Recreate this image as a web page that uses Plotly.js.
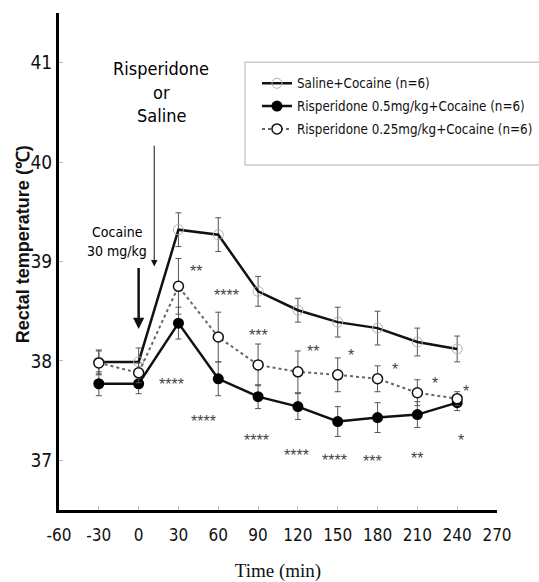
<!DOCTYPE html>
<html>
<head>
<meta charset="utf-8">
<script src="https://cdn.plot.ly/plotly-3.0.1.min.js"></script>
<style>html,body{margin:0;padding:0;background:#fff;}#chart{width:539px;height:582px;}</style>
</head>
<body>
<div id="chart"></div>
<script>
const time = [-30, 0, 30, 60, 90, 120, 150, 180, 210, 240];
const saline = [37.99, 37.99, 39.32, 39.27, 38.70, 38.51, 38.39, 38.33, 38.19, 38.12];
const salineErr = [0.12, 0.14, 0.17, 0.17, 0.15, 0.12, 0.15, 0.17, 0.14, 0.13];
const risp05 = [37.77, 37.77, 38.38, 37.82, 37.64, 37.54, 37.39, 37.43, 37.46, 37.58];
const risp05Err = [0.12, 0.10, 0.16, 0.17, 0.12, 0.13, 0.15, 0.15, 0.13, 0.08];
const risp025 = [37.98, 37.88, 38.75, 38.24, 37.96, 37.89, 37.86, 37.82, 37.68, 37.62];
const risp025Err = [0.12, 0.10, 0.28, 0.25, 0.21, 0.21, 0.17, 0.13, 0.13, 0.07];

const seriesNames = ['Saline+Cocaine (n=6)', 'Risperidone 0.5mg/kg+Cocaine (n=6)', 'Risperidone 0.25mg/kg+Cocaine (n=6)'];

const sigX = [43.5, 66, 90, 24.6, 48.8, 88.8, 119, 131, 160, 193, 223, 246.6, 243, 147.7, 176, 209.6];
const sigY = [38.94, 38.70, 38.30, 37.80, 37.43, 37.24, 37.09, 38.13, 38.09, 37.95, 37.81, 37.73, 37.24, 37.04, 37.03, 37.06];
const sigText = ['**', '****', '***', '****', '****', '****', '****', '**', '*', '*', '*', '*', '*', '****', '***', '**'];

const injLabel1 = ['Risperidone', 'or', 'Saline'];
const injLabel1Y = [40.94, 40.70, 40.47];
const injLabel2 = ['Cocaine', '30 mg/kg'];
const injLabel2Y = [39.30, 39.11];

const xTicks = [-60, -30, 0, 30, 60, 90, 120, 150, 180, 210, 240, 270];
const yTicks = [37, 38, 39, 40, 41];

const narrow = '"Liberation Sans Narrow", "DejaVu Sans Condensed", sans-serif';

function errBar(arr) {
  return {type: 'data', array: arr, visible: true, color: '#555', thickness: 1, width: 3};
}

const traces = [
  {x: time, y: saline, name: seriesNames[0], legendgroup: 'a', type: 'scatter', mode: 'lines+markers',
   line: {color: '#111', width: 2.5},
   marker: {symbol: 'circle-open', size: 10, color: '#b0b0b0', line: {width: 1}},
   error_y: errBar(salineErr)},
  {x: time, y: risp05, name: seriesNames[1], legendgroup: 'b', type: 'scatter', mode: 'lines+markers',
   line: {color: '#111', width: 2.5},
   marker: {symbol: 'circle', size: 11, color: '#000'},
   error_y: errBar(risp05Err)},
  {x: time, y: risp025, name: seriesNames[2], legendgroup: 'c', type: 'scatter', mode: 'lines+markers',
   line: {color: '#666', width: 2, dash: 'dot'},
   marker: {symbol: 'circle', size: 10, color: '#fff', line: {color: '#111', width: 1.5}},
   error_y: errBar(risp025Err)}
];

const annotations = sigX.map((x, i) => ({
  x: x, y: sigY[i], xref: 'x', yref: 'y', text: sigText[i], showarrow: false, yshift: -4,
  font: {family: '"Liberation Sans", Arial, sans-serif', size: 16, color: '#444'}
}));

injLabel1.forEach((t, i) => annotations.push({
  x: 17, y: injLabel1Y[i], xref: 'x', yref: 'y', text: t, showarrow: false,
  font: {family: narrow, size: 18, color: '#000'}
}));
injLabel2.forEach((t, i) => annotations.push({
  x: -16.2, y: injLabel2Y[i], xref: 'x', yref: 'y', text: t, showarrow: false,
  font: {family: narrow, size: 14, color: '#000'}
}));

annotations.push(
  {x: 11.75, y: 38.95, ax: 11.75, ay: 40.18, xref: 'x', yref: 'y', axref: 'x', ayref: 'y',
   text: '', showarrow: true, arrowhead: 2, arrowsize: 1.3, arrowwidth: 1, arrowcolor: '#111'},
  {x: 0, y: 38.32, ax: 0, ay: 38.95, xref: 'x', yref: 'y', axref: 'x', ayref: 'y',
   text: '', showarrow: true, arrowhead: 2, arrowsize: 0.9, arrowwidth: 2.5, arrowcolor: '#111'},
  {x: -0.082, y: 0.535, xref: 'paper', yref: 'paper', xanchor: 'center', yanchor: 'middle',
   text: 'Rectal temperature (℃)', textangle: -90,
   showarrow: false, font: {family: '"Liberation Sans", Arial, sans-serif', size: 18, weight: 'bold', color: '#111'}}
);

const layout = {
  width: 539, height: 582,
  margin: {l: 59, r: 42, t: 13, b: 72, autoexpand: false},
  paper_bgcolor: '#fff', plot_bgcolor: '#fff',
  showlegend: true,
  legend: {x: 0.452, y: 0.889, xanchor: 'left', yanchor: 'top', bgcolor: 'rgba(0,0,0,0)',
           borderwidth: 0, tracegroupgap: 2.5, font: {family: narrow, size: 13.3, color: '#111'}},
  xaxis: {range: [-60, 270], tickvals: xTicks, ticktext: xTicks.map(String), tickangle: 0,
          showgrid: false, zeroline: false, showline: true, linecolor: '#000', linewidth: 3,
          ticks: 'inside', ticklen: 4, tickcolor: '#bbb', tickwidth: 1, ticklabelstandoff: 8,
          tickfont: {family: narrow, size: 17, color: '#111'},
          title: {text: 'Time (min)', font: {family: '"Liberation Serif", "DejaVu Serif", serif', size: 19, color: '#111'}, standoff: 20}},
  yaxis: {range: [36.5, 41.5], tickvals: yTicks, ticktext: yTicks.map(String),
          showgrid: false, zeroline: false, showline: true, linecolor: '#000', linewidth: 3,
          ticks: 'inside', ticklen: 4, tickcolor: '#bbb', tickwidth: 1,
          tickfont: {family: narrow, size: 19, color: '#111'}},
  shapes: [
    {type: 'rect', xref: 'paper', yref: 'paper', x0: 0.4247, x1: 1.3, y0: 0.694, y1: 0.901,
     line: {color: '#ccc', width: 1.5}, fillcolor: 'rgba(0,0,0,0)', layer: 'below'}
  ],
  annotations: annotations
};

Plotly.newPlot('chart', traces, layout, {displayModeBar: false, staticPlot: true});
</script>
</body>
</html>
